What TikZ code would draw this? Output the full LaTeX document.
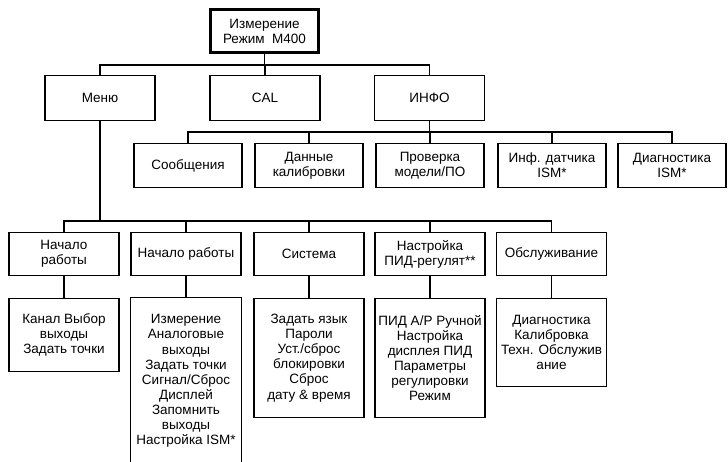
\documentclass[tikz,border=0pt]{standalone}
\usepackage{fontspec}
\setmainfont{Liberation Sans}
\begin{document}
\begin{tikzpicture}[x=1pt,y=-1pt,
  box/.style={draw, line width=1.2pt, minimum width=110pt, minimum height=44pt, inner sep=0pt, align=center, font=\fontsize{13.5}{15.1}\selectfont},
  openbox/.style={box, draw=none},
  conn/.style={line width=1.2pt}]
\useasboundingbox (0,0) rectangle (728,462);
% top
\node[box, line width=3pt, minimum width=108pt, minimum height=43pt] (top) at (264.5,31) {Измерение\\Режим\ \ M400};
% row 1
\node[box, minimum height=45pt] (menu) at (100,98) {Меню};
\node[box, minimum height=45pt] (cal) at (265,98) {CAL};
\node[box, minimum height=45pt] (info) at (429.5,98) {ИНФО};
% row 2
\node[box, minimum width=108pt] (msg) at (188,165.5) {Сообщения};
\node[box, minimum width=108pt] (cald) at (309,165.5) {Данные\\калибровки};
\node[box, minimum width=108pt] (model) at (430,165.5) {Проверка\\модели/ПО};
\node[box, minimum width=108pt] (sens) at (552,165.5) {Инф. датчика\\ISM*};
\node[box, minimum width=108pt] (diag) at (672,165.5) {Диагностика\\ISM*};
% row 3
\node[box, minimum height=43pt] (start1) at (64,254) {Начало\\работы};
\node[box, minimum height=43pt] (start2) at (186,254) {Начало работы};
\node[box, minimum height=43pt] (sys) at (309,254) {Система};
\node[box, minimum height=43pt] (pid) at (430,254) {Настройка\\ПИД-регулят**};
\node[box, minimum height=43pt] (serv) at (551.5,254) {Обслуживание};
% row 4
\node[box, minimum height=73pt] (d1) at (64,335) {Канал Выбор\\выходы\\Задать точки};
\node[openbox, minimum height=166pt] (d2) at (186,381) {Измерение\\Аналоговые\\выходы\\Задать точки\\Сигнал/Сброс\\Дисплей\\Запомнить\\выходы\\Настройка ISM*};
\draw[conn] (d2.south west) -- (d2.north west) -- (d2.north east) -- (d2.south east);
\node[box, minimum height=119pt] (d3) at (309,358) {Задать язык\\Пароли\\Уст./сброс\\блокировки\\Сброс\\дату \& время};
\node[box, minimum height=119pt] (d4) at (430,358) {ПИД A/P Ручной\\Настройка\\дисплея ПИД\\Параметры\\регулировки\\Режим};
\node[box, minimum height=88pt] (d5) at (551.5,342.5) {Диагностика\\Калибровка\\Техн. Обслужив\\ание};
% buses
\coordinate (b1) at (0,65);
\coordinate (b2) at (0,132);
\coordinate (b3) at (0,221);
\draw[conn] (top.south) -- (top.south |- b1);
\draw[conn] (menu.north) -- (menu.north |- b1) -- (info.north |- b1) -- (info.north);
\draw[conn] (cal.north) -- (cal.north |- b1);
\draw[conn] (info.south) -- (info.south |- b2);
\draw[conn] (msg.north) -- (msg.north |- b2) -- (diag.north |- b2) -- (diag.north);
\foreach \n in {cald,model,sens} \draw[conn] (\n.north) -- (\n.north |- b2);
\draw[conn] (menu.south) -- (menu.south |- b3);
\draw[conn] (start1.north) -- (start1.north |- b3) -- (serv.north |- b3) -- (serv.north);
\foreach \n in {start2,sys,pid} \draw[conn] (\n.north) -- (\n.north |- b3);
\draw[conn] (start1.south) -- (d1.north);
\draw[conn] (start2.south) -- (d2.north);
\draw[conn] (sys.south) -- (d3.north);
\draw[conn] (pid.south) -- (d4.north);
\draw[conn] (serv.south) -- (d5.north);
\end{tikzpicture}
\end{document}
